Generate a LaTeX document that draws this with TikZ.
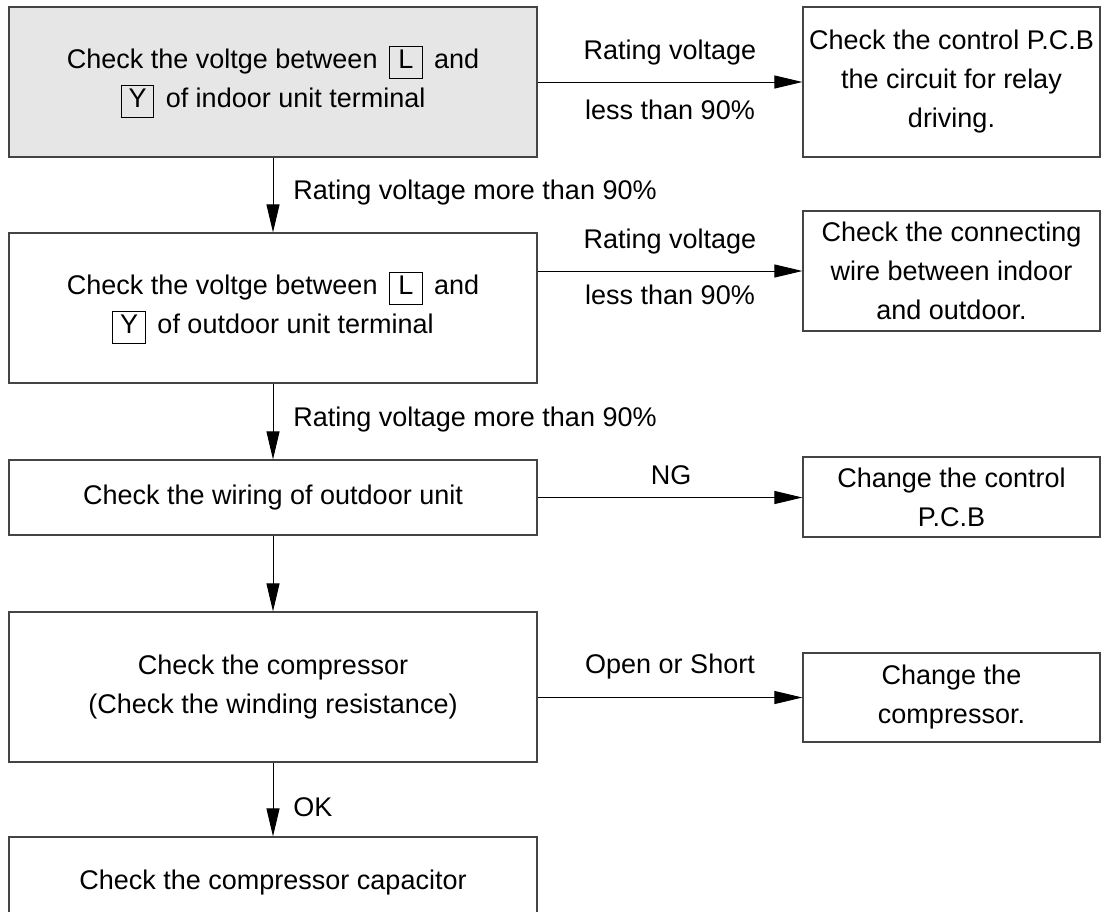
\documentclass[tikz,border=0pt]{standalone}
\usepackage{fontspec}
\setmainfont{Liberation Sans}
\usetikzlibrary{arrows.meta}
\definecolor{boxline}{HTML}{444444}
\definecolor{boxfill}{HTML}{E6E6E6}
\newcommand\termframe[1]{{\setlength\fboxsep{1.2pt}\setlength\fboxrule{0.5pt}\fbox{\rule[-0.27em]{0pt}{0.82em}\makebox[1.0em]{#1}}}}
\newcommand\termmid[1]{\hspace{0.42em}\termframe{#1}\hspace{0.42em}}
\newcommand\termstart[1]{\termframe{#1}\hspace{0.42em}}
\begin{document}
\begin{tikzpicture}[x=0.5pt,y=-0.5pt,
  txt/.style={font=\fontsize{13.5}{19.5}\selectfont, align=center, inner sep=0pt},
  leftbox/.style={txt, draw=boxline, line width=0.6pt, minimum width=264pt},
  rightbox/.style={txt, draw=boxline, line width=0.6pt, minimum width=148.5pt},
  lbl/.style={txt},
  arr/.style={line width=0.5pt, -{Triangle[length=14pt,width=6.5pt]}}
]
\useasboundingbox (0,0) rectangle (1108,911);

% left column
\node[leftbox, fill=boxfill, minimum height=75pt] (b1) at (273,82)
  {Check the voltge between\termmid{L}and\\ \termstart{Y}of indoor unit terminal};
\node[leftbox, minimum height=75pt] (b2) at (273,308)
  {Check the voltge between\termmid{L}and\\ \termstart{Y}of outdoor unit terminal};
\node[leftbox, minimum height=37.5pt] (b3) at (273,497.5)
  {Check the wiring of outdoor unit};
\node[leftbox, minimum height=75pt] (b4) at (273,687)
  {Check the compressor\\ (Check the winding resistance)};
\node[leftbox, minimum height=46pt] (b5) at (273,883)
  {Check the compressor capacitor};

% right column
\node[rightbox, minimum height=75pt] (r1) at (951.5,82)
  {Check the control P.C.B\\ the circuit for relay\\ driving.};
\node[rightbox, minimum height=60pt] (r2) at (951.5,271)
  {Check the connecting\\ wire between indoor\\ and outdoor.};
\node[rightbox, minimum height=40pt] (r3) at (951.5,497)
  {Change the control\\ P.C.B};
\node[rightbox, minimum height=44.5pt] (r4) at (951.5,697.5)
  {Change the\\ compressor.};

% vertical connectors
\draw[arr] (b1.south) -- (b2.north);
\draw[arr] (b2.south) -- (b3.north);
\draw[arr] (b3.south) -- (b4.north);
\draw[arr] (b4.south) -- (b5.north);

% horizontal connectors
\draw[arr] (b1.east) -- (r1.west);
\draw[arr] (r2.west -| b2.east) -- (r2.west);
\draw[arr] (b3.east) -- (b3.east -| r3.west);
\draw[arr] (r4.west -| b4.east) -- (r4.west);

% labels
\node[lbl] (l1a) at (670,53) {Rating voltage};
\node[lbl] (l1b) at (670,110) {less than 90\%};
\node[lbl, anchor=west] (l2) at (293,193) {Rating voltage more than 90\%};
\node[lbl] (l3a) at (670,242) {Rating voltage};
\node[lbl] (l3b) at (670,295) {less than 90\%};
\node[lbl, anchor=west] (l4) at (293,420) {Rating voltage more than 90\%};
\node[lbl] (l5) at (671,475) {NG};
\node[lbl] (l6) at (670,667) {Open or Short};
\node[lbl, anchor=west] (l7) at (293,807) {OK};
\end{tikzpicture}
\end{document}
